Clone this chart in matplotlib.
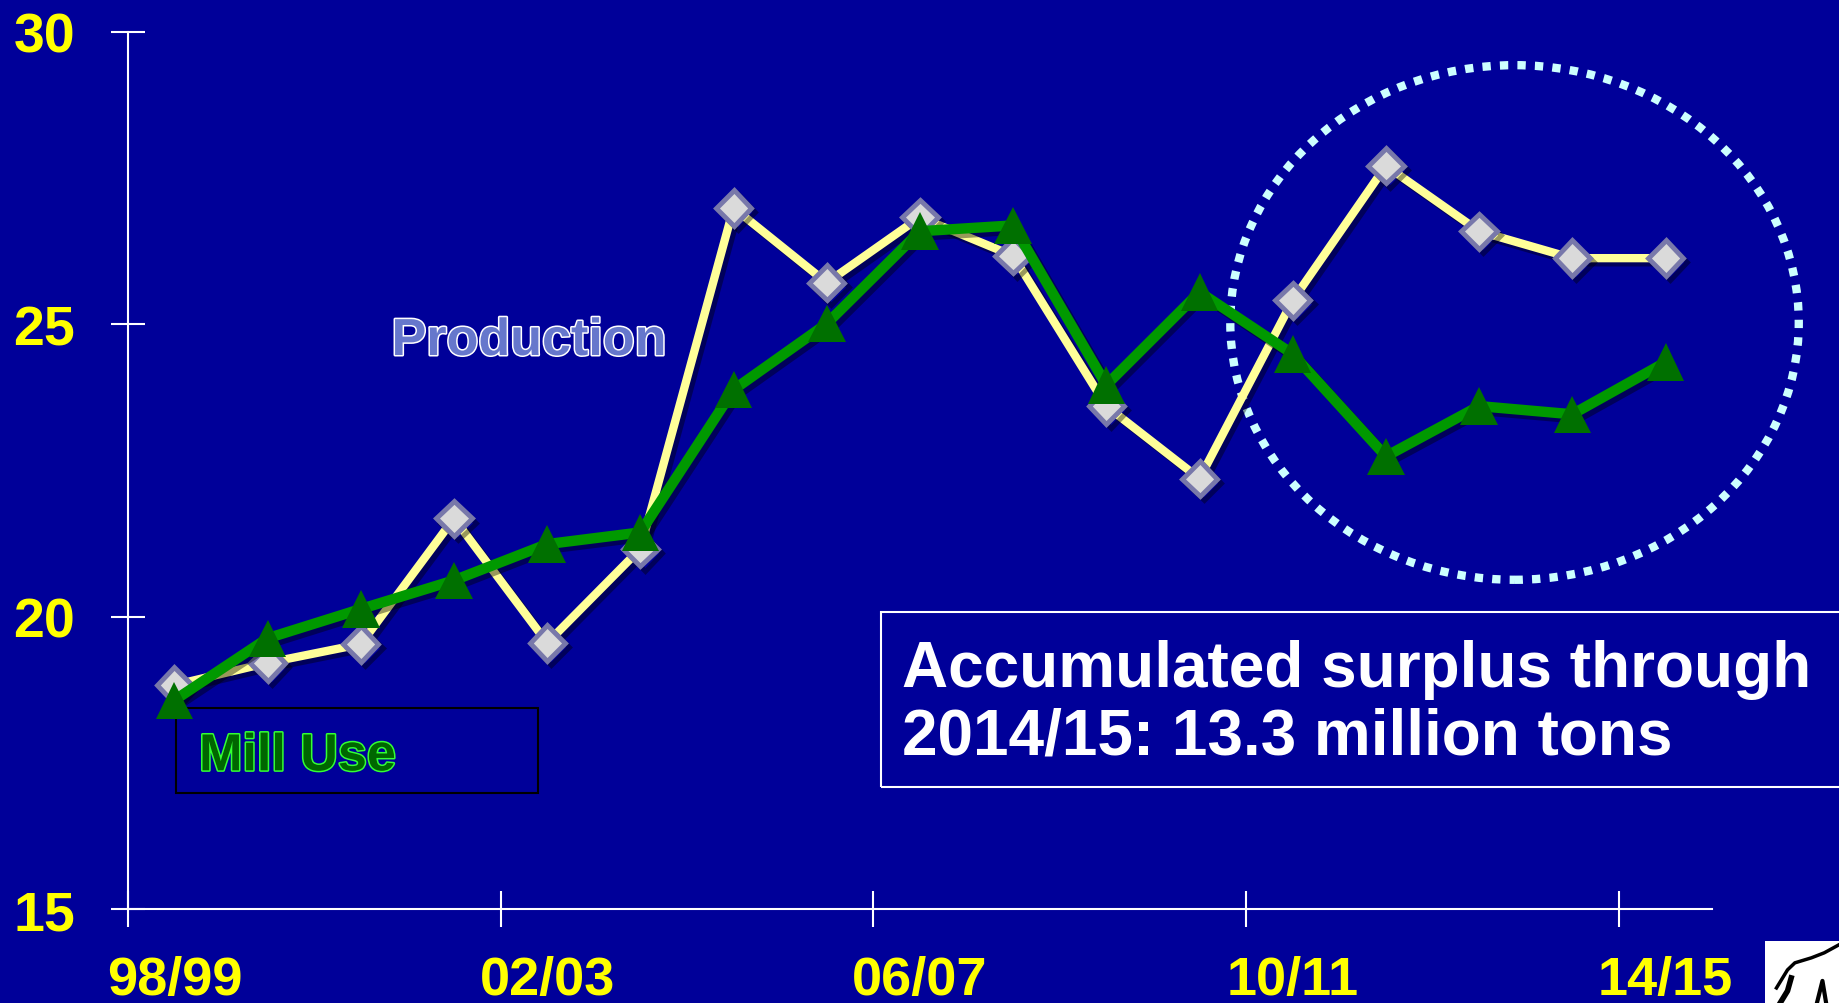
import matplotlib
matplotlib.use("Agg")
import matplotlib.pyplot as plt
import matplotlib.patheffects as pe
from matplotlib.patches import Ellipse, Rectangle

# Seasons (crop years) and values, million tons
seasons = ["98/99", "99/00", "00/01", "01/02", "02/03", "03/04", "04/05",
           "05/06", "06/07", "07/08", "08/09", "09/10", "10/11", "11/12",
           "12/13", "13/14", "14/15"]
production = [18.83, 19.21, 19.53, 21.68, 19.55, 21.16, 26.99, 25.71, 26.83,
              26.17, 23.60, 22.36, 25.41, 27.71, 26.59, 26.13, 26.13]
mill_use = [18.57, 19.63, 20.13, 20.62, 21.24, 21.44, 23.88, 25.01, 26.59,
            26.69, 23.96, 25.55, 24.49, 22.74, 23.60, 23.46, 24.35]
y_ticks = [15, 20, 25, 30]
label_step = 4

BG = "#000099"
YELLOW = "#ffff00"

plt.rcParams["font.family"] = ["Liberation Sans", "DejaVu Sans"]
plt.rcParams["font.weight"] = "bold"

fig = plt.figure(figsize=(18.39, 10.04), dpi=100, facecolor=BG)
ax = fig.add_axes([0.0695, 0.0936, 0.8615, 0.8737], facecolor=BG)

xs = list(range(len(seasons)))
shadow = [pe.SimpleLineShadow(offset=(3, -3), shadow_color="black", alpha=0.4), pe.Normal()]

ax.plot(xs, production, color="#ffff99", lw=6, marker="D", markersize=18,
        markerfacecolor="#dadada", markeredgecolor="#7878aa", markeredgewidth=3.5,
        zorder=3, path_effects=shadow, clip_on=False)
ax.plot(xs, mill_use, color="#009900", lw=7.5, marker="^", markersize=27,
        markerfacecolor="#007000", markeredgecolor="#007000", markeredgewidth=0,
        zorder=4, path_effects=shadow, clip_on=False)

ax.set_xlim(-0.5, len(seasons) - 0.5)
ax.set_ylim(15, 30)

# axes styling
for side in ["top", "right"]:
    ax.spines[side].set_visible(False)
for side in ["left", "bottom"]:
    ax.spines[side].set_color("white")
    ax.spines[side].set_linewidth(1.5)

ax.set_xticks([b - 0.5 for b in range(0, len(seasons), label_step)])
ax.set_xticks(xs[::label_step], minor=True)
ax.set_xticklabels(seasons[::label_step], minor=True)
ax.tick_params(axis="x", which="major", direction="inout", length=26, width=1.5,
               color="white", labelbottom=False)
ax.tick_params(axis="x", which="minor", length=0, pad=33, labelsize=39,
               labelcolor=YELLOW)
ax.set_yticks(y_ticks)
ax.tick_params(axis="y", direction="inout", length=25, width=1.5, color="white",
               pad=25.5, labelsize=40, labelcolor=YELLOW)

# dotted circle around the last seasons
ax.add_patch(Ellipse((14.38, 25.03), 6.10, 8.80, fill=False, edgecolor="#ccffff",
                     lw=6, linestyle=(0, (1, 1.1)), clip_on=False, zorder=2))

# series labels
ax.text(0.2532, 0.647, "Production", transform=ax.transAxes, ha="center",
        va="center", fontsize=37.5, color="#6677cc",
        path_effects=[pe.withStroke(linewidth=2.2, foreground="white")])
ax.add_patch(Rectangle((0.0304, 0.1322), 0.2285, 0.0964, transform=ax.transAxes,
                       fill=False, edgecolor="black", lw=1.5, zorder=1))
ax.text(0.1071, 0.1735, "Mill Use", transform=ax.transAxes, ha="center",
        va="center", fontsize=37.5, color="#006600",
        path_effects=[pe.withStroke(linewidth=2.2, foreground="#33ff33")])

# surplus note box
fig.patches.append(Rectangle((0.479, 0.215), 0.53, 0.174, transform=fig.transFigure,
                             fill=False, edgecolor="white", lw=1.5))
fig.text(0.4905, 0.2995, "Accumulated surplus through\n2014/15: 13.3 million tons",
         ha="left", va="center", fontsize=46, color="white", linespacing=1.16)

# corner logo fragment
fig.patches.append(Rectangle((0.9598, 0.0), 0.05, 0.062, transform=fig.transFigure,
                             facecolor="white", edgecolor="none"))
fig.lines.append(plt.Line2D([0.966, 0.972, 0.976, 0.985, 0.992, 1.0],
                            [0.015, 0.033, 0.040, 0.045, 0.050, 0.058],
                            transform=fig.transFigure, color="black", lw=2.5))
fig.lines.append(plt.Line2D([0.968, 0.972, 0.974], [0.0, 0.012, 0.025],
                            transform=fig.transFigure, color="black", lw=4))
fig.lines.append(plt.Line2D([0.988, 0.991, 0.993], [0.0, 0.022, 0.0],
                            transform=fig.transFigure, color="black", lw=3))

fig.savefig("out.png", dpi=100, facecolor=BG)
